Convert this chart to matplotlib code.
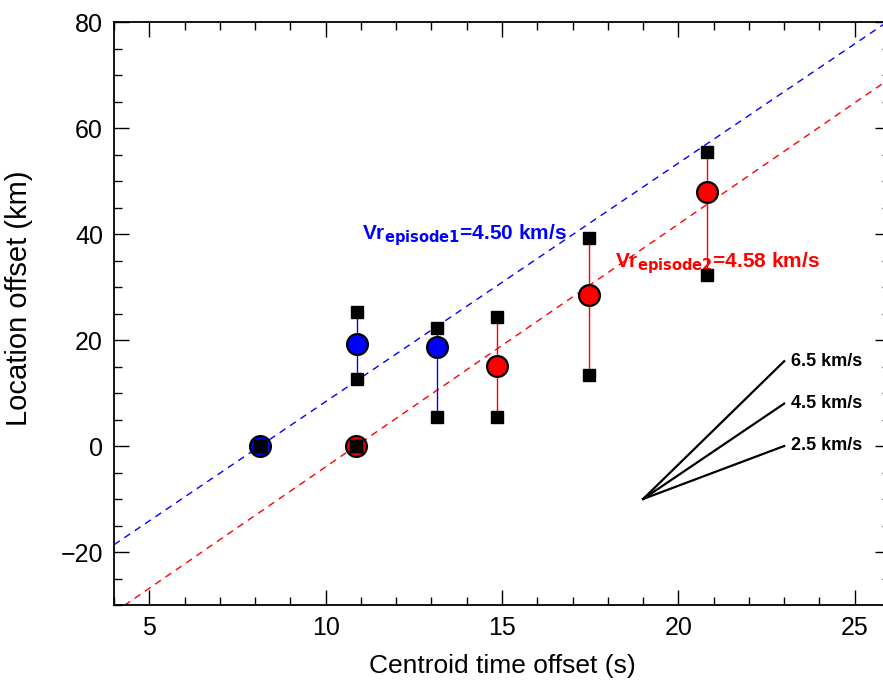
import numpy as np
import matplotlib.pyplot as plt
from matplotlib.ticker import MultipleLocator

plt.rcParams['font.family'] = ['Liberation Sans', 'DejaVu Sans']

# episode 1 (blue): centroid time, location, upper/lower bounds
t1 = [8.14, 10.88, 13.16]
loc1 = [0.0, 19.3, 18.6]
hi1 = [0.0, 25.2, 22.3]
lo1 = [0.0, 12.6, 5.4]
v1 = 4.50

# episode 2 (red)
t2 = [10.86, 14.86, 17.46, 20.80]
loc2 = [0.0, 15.1, 28.4, 47.9]
hi2 = [0.0, 24.4, 39.3, 55.4]
lo2 = [0.0, 5.4, 13.4, 32.2]
v2 = 4.58

# reference rupture speeds fan
ref_speeds = [6.5, 4.5, 2.5]
fan_t0, fan_y0, fan_dt = 19.0, -10.0, 4.0

xmin, xmax = 4, 26
ymin, ymax = -30, 80

fig = plt.figure(figsize=(8.83, 6.85), dpi=100)
ax = fig.add_axes([114 / 883, 1 - 605 / 685, (890 - 114) / 883, (605 - 22) / 685])

xx = np.array([xmin, xmax])
ax.plot(xx, v1 * (xx - t1[0]) + loc1[0], '--', color='blue', lw=1.0, dashes=(5, 4))
ax.plot(xx, v2 * (xx - t2[0]) + loc2[0], '--', color='red', lw=1.0, dashes=(5, 4))

for t, lo, hi in zip(t1, lo1, hi1):
    ax.plot([t, t], [lo, hi], color='blue', lw=1.0, zorder=3)
for t, lo, hi in zip(t2, lo2, hi2):
    ax.plot([t, t], [lo, hi], color='red', lw=1.0, zorder=3)

ax.plot(t1, loc1, 'o', ms=15, mfc='blue', mec='black', mew=1.6, zorder=4, ls='none')
ax.plot(t2, loc2, 'o', ms=15, mfc='red', mec='black', mew=1.6, zorder=4, ls='none')

sq_t = t1 + t1 + t2 + t2
sq_y = hi1 + lo1 + hi2 + lo2
ax.plot(sq_t, sq_y, 's', ms=8.5, mfc='black', mec='black', zorder=5, ls='none')

ax.text(11.03, 39.7, r'Vr$_{\mathbf{episode1}}$=4.50 km/s', color='blue',
        fontsize=15, fontweight='bold', va='center', ha='left')
ax.text(18.2, 34.6, r'Vr$_{\mathbf{episode2}}$=4.58 km/s', color='red',
        fontsize=15, fontweight='bold', va='center', ha='left')

for v in ref_speeds:
    y1 = fan_y0 + v * fan_dt
    ax.plot([fan_t0, fan_t0 + fan_dt], [fan_y0, y1], color='black', lw=1.6)
    ax.text(fan_t0 + fan_dt + 0.2, y1, f'{v} km/s', fontsize=13,
            fontweight='bold', va='center', ha='left')

ax.set_xlim(xmin, xmax)
ax.set_ylim(ymin, ymax)
ax.set_xticks([5, 10, 15, 20, 25])
ax.set_yticks([-20, 0, 20, 40, 60, 80])
ax.xaxis.set_minor_locator(MultipleLocator(1))
ax.yaxis.set_minor_locator(MultipleLocator(5))
ax.set_yticklabels(['\u221220', '0', '20', '40', '60', '80'])
ax.tick_params(which='both', direction='in', top=True, right=True, labelsize=18, width=1.0)
ax.tick_params(which='major', length=11, pad=8)
ax.tick_params(which='minor', length=5.5)
for s in ax.spines.values():
    s.set_linewidth(1.3)

ax.set_xlabel('Centroid time offset (s)', fontsize=19, labelpad=10)
ax.set_ylabel('Location offset (km)', fontsize=21)
ax.yaxis.set_label_coords(-0.104, 0.527)

fig.savefig('out.png', dpi=100)
